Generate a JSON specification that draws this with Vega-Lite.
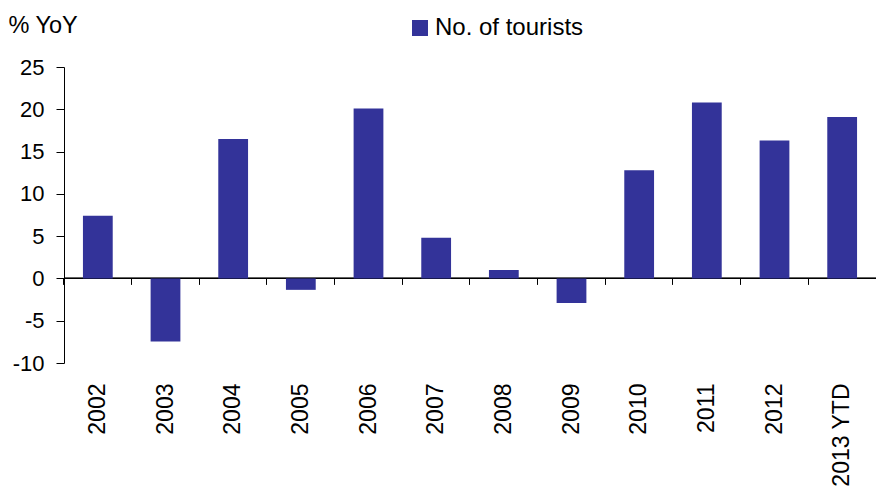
{
  "$schema": "https://vega.github.io/schema/vega-lite/v6.json",
  "width": 812,
  "height": 296,
  "autosize": "none",
  "padding": {"left": 64, "top": 67, "right": 0, "bottom": 126},
  "config": {"font": "Liberation Sans", "view": {"stroke": null}},
  "data": {
    "values": [
      {"year": "2002", "value": 7.4},
      {"year": "2003", "value": -7.45},
      {"year": "2004", "value": 16.5},
      {"year": "2005", "value": -1.35},
      {"year": "2006", "value": 20.1},
      {"year": "2007", "value": 4.8},
      {"year": "2008", "value": 1.0},
      {"year": "2009", "value": -2.9},
      {"year": "2010", "value": 12.8},
      {"year": "2011", "value": 20.8},
      {"year": "2012", "value": 16.3},
      {"year": "2013 YTD", "value": 19.1}
    ]
  },
  "resolve": {"axis": {"x": "independent"}},
  "layer": [
    {
      "mark": {"type": "rule", "color": "#000", "strokeWidth": 1},
      "encoding": {"y": {"datum": 0}}
    },
    {
      "mark": {"type": "bar"},
      "encoding": {
        "x": {
          "field": "year", "type": "nominal", "sort": null,
          "scale": {"paddingInner": 0.56, "paddingOuter": 0.28},
          "axis": {"orient": "bottom", "title": null, "labelAngle": -90, "labelFontSize": 23, "labelColor": "#000", "domain": false, "ticks": false, "labelPadding": 20, "grid": false}
        },
        "y": {
          "field": "value", "type": "quantitative",
          "scale": {"domain": [-10, 25], "nice": false},
          "axis": {"values": [-10, -5, 0, 5, 10, 15, 20, 25], "labelExpr": "datum.value < 0 ? '-' + abs(datum.value) : '' + datum.value", "title": "% YoY", "titleAngle": 0, "titleAlign": "left", "titleX": -56, "titleY": -42, "titleBaseline": "middle", "titleFontSize": 23.5, "titleFontWeight": "normal", "titleColor": "#000", "labelFontSize": 22, "labelColor": "#000", "domainColor": "#000", "tickColor": "#000", "tickSize": 8, "labelPadding": 12, "gridColor": "#c8c8c8", "gridDash": [9, 6]}
        },
        "color": {
          "datum": "No. of tourists", "type": "nominal",
          "scale": {"range": ["#333399"]},
          "legend": {"orient": "none", "legendX": 344, "legendY": -51, "title": null, "symbolType": "square", "symbolSize": 256, "symbolStrokeWidth": 0, "labelFontSize": 24, "labelColor": "#000", "padding": 0, "labelOffset": 3}
        }
      }
    },
    {
      "mark": {"type": "bar", "opacity": 0},
      "encoding": {
        "x": {
          "field": "year", "type": "nominal", "sort": null,
          "axis": {"orient": "bottom", "offset": -84.6, "title": null, "labels": false, "domain": false, "ticks": true, "bandPosition": -0.6364, "tickSize": 6, "tickColor": "#000", "grid": false}
        },
        "y": {"field": "value", "type": "quantitative"}
      }
    }
  ]
}
